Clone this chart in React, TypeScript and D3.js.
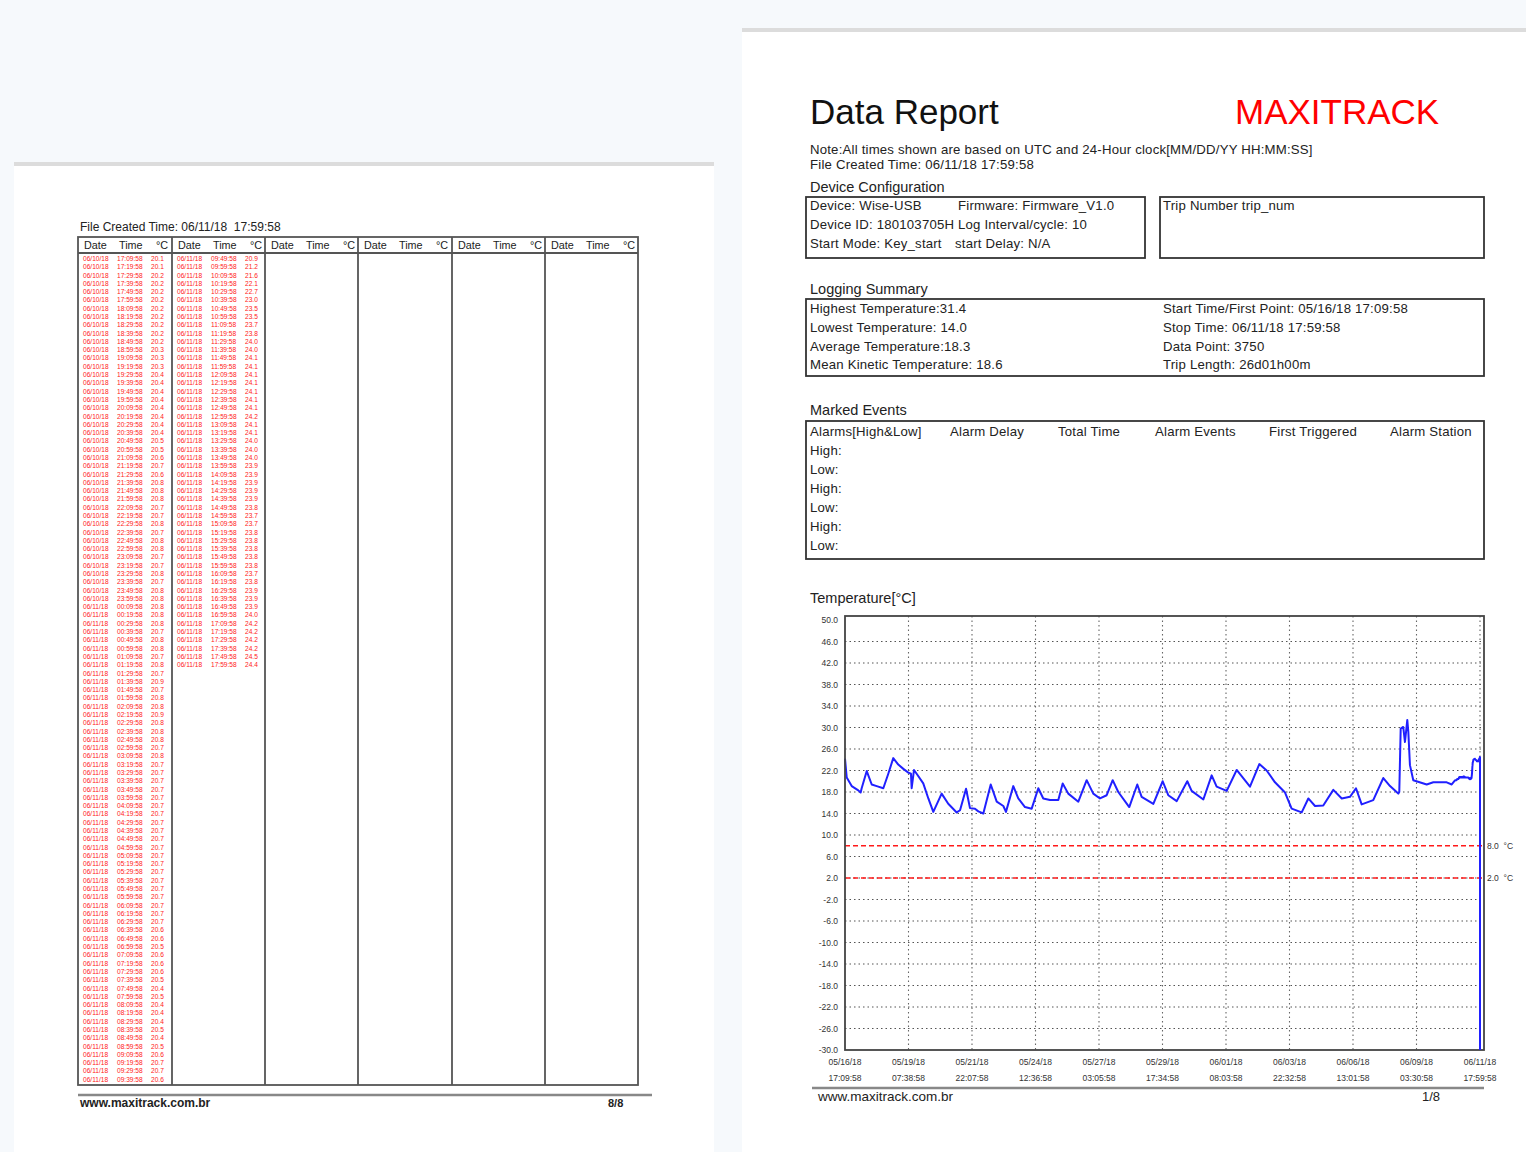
import React from 'react'
import * as d3 from 'd3'

const FONT = '"Liberation Sans", Arial, sans-serif'

// trend: hours after the first point, °C
const trendHours = [
  0, 1.7, 6.6, 13.1, 15.4, 16.4, 21.4, 26.3, 31.2, 37.7, 42.6, 47.5, 52.4, 57.4, 62.3, 64.9, 65.6, 67.9, 70.5,
  77.0, 82.0, 86.9, 95.1, 101.6, 109.9, 113.2, 119.1, 123.0, 127.9, 131.2, 136.1, 143.4, 149.3, 155.8, 158.4,
  165.6, 170.5, 177.1, 183.7, 190.2, 195.1, 201.7, 209.9, 214.2, 219.7, 229.6, 237.8, 244.3, 250.9, 257.5,
  263.4, 268.9, 279.7, 287.6, 291.9, 303.4, 312.6, 318.1, 326.4, 336.8, 341.1, 352.6, 360.8, 365.7, 375.6,
  385.4, 398.5, 407.7, 414.9, 423.1, 433.0, 439.5, 449.4, 455.9, 462.5, 470.6, 480.5, 488.8, 496.9, 502.8,
  508.4, 519.8, 529.7, 536.3, 544.4, 545.4, 546.8, 549.3, 551.0, 553.3, 554.3, 555.9, 559.2, 572.4, 578.9,
  592.1, 597.0,
]
const trendTemps = [
  24.2, 20.7, 19.1, 18.3, 17.9, 18.7, 21.9, 19.4, 19.1, 18.7, 21.4, 24.3, 23.1, 22.3, 21.6, 21.4, 18.7, 22.1, 21.4,
  19.6, 16.8, 14.3, 17.7, 15.8, 14.2, 14.6, 18.6, 15.0, 14.9, 14.4, 14.0, 19.4, 16.2, 15.4, 14.3,
  19.1, 16.8, 15.2, 14.9, 18.7, 16.8, 16.5, 16.5, 19.6, 17.7, 16.2, 20.2, 17.7, 16.8, 17.4,
  20.2, 18.0, 15.2, 19.4, 17.1, 15.8, 20.0, 17.4, 16.3, 20.0, 18.2, 16.6, 21.1, 19.0, 18.2,
  22.1, 19.0, 23.2, 22.0, 19.8, 17.9, 14.9, 14.2, 16.8, 15.4, 15.5, 18.4, 16.8, 17.1, 18.7,
  15.7, 16.5, 20.6, 19.1, 17.7, 18.0, 29.8, 30.1, 27.3, 31.4, 29.2, 23.0, 20.2, 19.4, 19.8,
  19.8, 19.4,
]

// page 8/8 records, every 10 minutes from 06/10/18 17:09:58
const pageTemps = [
  20.1, 20.1, 20.2, 20.2, 20.2, 20.2, 20.2, 20.2, 20.2, 20.2,
  20.2, 20.3, 20.3, 20.3, 20.4, 20.4, 20.4, 20.4, 20.4, 20.4,
  20.4, 20.4, 20.5, 20.5, 20.6, 20.7, 20.6, 20.8, 20.8, 20.8,
  20.7, 20.7, 20.8, 20.7, 20.8, 20.8, 20.7, 20.7, 20.8, 20.7,
  20.8, 20.8, 20.8, 20.8, 20.8, 20.7, 20.8, 20.8, 20.7, 20.8,
  20.7, 20.9, 20.7, 20.8, 20.8, 20.9, 20.8, 20.8, 20.8, 20.7,
  20.8, 20.7, 20.7, 20.7, 20.7, 20.7, 20.7, 20.7, 20.7, 20.7,
  20.7, 20.7, 20.7, 20.7, 20.7, 20.7, 20.7, 20.7, 20.7, 20.7,
  20.7, 20.6, 20.6, 20.5, 20.6, 20.6, 20.6, 20.5, 20.4, 20.5,
  20.4, 20.4, 20.4, 20.5, 20.4, 20.5, 20.6, 20.7, 20.7, 20.6,
  20.9, 21.2, 21.6, 22.1, 22.7, 23.0, 23.5, 23.5, 23.7, 23.8,
  24.0, 24.0, 24.1, 24.1, 24.1, 24.1, 24.1, 24.1, 24.1, 24.2,
  24.1, 24.1, 24.0, 24.0, 24.0, 23.9, 23.9, 23.9, 23.9, 23.9,
  23.8, 23.7, 23.7, 23.8, 23.8, 23.8, 23.8, 23.8, 23.7, 23.8,
  23.9, 23.9, 23.9, 24.0, 24.2, 24.2, 24.2, 24.2, 24.5, 24.4,
]

const yTicks = [50, 46, 42, 38, 34, 30, 26, 22, 18, 14, 10, 6, 2, -2, -6, -10, -14, -18, -22, -26, -30]
const xTickLabels = [
  '05/16/18 17:09:58', '05/19/18 07:38:58', '05/21/18 22:07:58', '05/24/18 12:36:58', '05/27/18 03:05:58',
  '05/29/18 17:34:58', '06/01/18 08:03:58', '06/03/18 22:32:58', '06/06/18 13:01:58', '06/09/18 03:30:58',
  '06/11/18 17:59:58',
]
const limits = [8.0, 2.0]

const configLeft = ['Device: Wise-USB', 'Device ID:  180103705H', 'Start Mode: Key_start']
const configRight = ['Firmware: Firmware_V1.0', 'Log Interval/cycle: 10', 'start Delay:  N/A']
const summaryLeft = ['Highest Temperature:31.4', 'Lowest Temperature: 14.0', 'Average Temperature:18.3', 'Mean Kinetic Temperature: 18.6']
const summaryRight = ['Start Time/First Point: 05/16/18  17:09:58', 'Stop Time: 06/11/18  17:59:58', 'Data Point: 3750', 'Trip Length:  26d01h00m']
const alarmHeaders = ['Alarms[High&Low]', 'Alarm Delay', 'Total Time', 'Alarm Events', 'First Triggered', 'Alarm Station']
const alarmHeaderX = [810, 950, 1058, 1155, 1269, 1390]
const alarmRows = ['High:', 'Low:', 'High:', 'Low:', 'High:', 'Low:']

const App = () => {
  const parse = d3.utcParse('%m/%d/%y %H:%M:%S')
  const start = parse('05/16/18 17:09:58') as Date
  const stop = parse('06/11/18 17:59:58') as Date
  const pageStart = parse('06/10/18 17:09:58') as Date

  const left = 845, right = 1484, top = 616, bottom = 1050
  const x = d3.scaleUtc().domain([start, stop]).range([left, 1480])
  const y = d3.scaleLinear().domain([-30, 50]).range([bottom, 620])

  const series = [
    ...trendHours.map((h, i) => ({ t: d3.utcMinute.offset(start, Math.round(h * 60)), v: trendTemps[i] })),
    ...pageTemps.map((v, i) => ({ t: d3.utcMinute.offset(pageStart, i * 10), v })),
    { t: stop, v: -30 },
  ]
  const line = d3.line<{ t: Date, v: number }>().x(d => x(d.t)).y(d => y(d.v))
  const xTicks = xTickLabels.map(s => parse(s) as Date)

  const fmtDate = d3.utcFormat('%m/%d/%y')
  const fmtTime = d3.utcFormat('%H:%M:%S')

  // left page table
  const colX = [78, 172, 265, 358, 452, 545, 638]
  const rowY0 = 261, rowH = 8.29
  const rows = pageTemps.map((v, i) => {
    const t = d3.utcMinute.offset(pageStart, i * 10)
    return { col: Math.floor(i / 100), row: i % 100, date: fmtDate(t), time: fmtTime(t), v }
  })

  const body = { fontSize: 13.2, letterSpacing: 0.2, fill: '#222', style: { whiteSpace: 'pre' as const } }

  return (
    <>
      <style>{'body{margin:0}'}</style>
      <svg width={1526} height={1152} style={{ display: 'block', fontFamily: FONT }}>
        <rect width={1526} height={1152} fill="#f6f9fc" />

        {/* page 8/8 */}
        <rect x={14} y={163} width={700} height={1000} fill="#fff" />
        <rect x={14} y={162} width={700} height={4} fill="#dcdcdc" />
        <text x={80} y={231} fontSize={12} fill="#222" style={{ whiteSpace: 'pre' }}>File Created Time: 06/11/18  17:59:58</text>
        <rect x={colX[0]} y={237} width={colX[6] - colX[0]} height={848} fill="none" stroke="#555" strokeWidth={1.8} />
        <line x1={colX[0]} x2={colX[6]} y1={253} y2={253} stroke="#555" strokeWidth={1.8} />
        {colX.slice(1, 6).map(cx => (
          <line key={cx} x1={cx} x2={cx} y1={237} y2={1085} stroke="#555" strokeWidth={1.8} />
        ))}
        {colX.slice(0, 6).map(cx => (
          <g key={'h' + cx} fontSize={10.8} fill="#222">
            <text x={cx + 6} y={249}>Date</text>
            <text x={cx + 41} y={249}>Time</text>
            <text x={cx + 78} y={249}>°C</text>
          </g>
        ))}
        <g fontSize={6.6} fill="#ff2020">
          {rows.map((r, i) => (
            <g key={i} transform={`translate(${colX[r.col]},${rowY0 + r.row * rowH})`}>
              <text x={5}>{r.date}</text>
              <text x={39}>{r.time}</text>
              <text x={73}>{r.v.toFixed(1)}</text>
            </g>
          ))}
        </g>
        <line x1={78} x2={652} y1={1095} y2={1095} stroke="#888" strokeWidth={2.5} />
        <text x={80} y={1107} fontSize={12} fontWeight="bold" fill="#222">www.maxitrack.com.br</text>
        <text x={608} y={1107} fontSize={11} fontWeight="bold" fill="#222">8/8</text>

        {/* page 1/8 */}
        <rect x={742} y={29} width={784} height={1130} fill="#fff" />
        <rect x={742} y={28} width={784} height={4} fill="#dcdcdc" />
        <text x={810} y={124} fontSize={35} fill="#111">Data Report</text>
        <text x={1235} y={124} fontSize={35} fill="#ff0000">MAXITRACK</text>
        <g {...body}>
          <text x={810} y={154}>Note:All times shown are based on UTC and 24-Hour clock[MM/DD/YY HH:MM:SS]</text>
          <text x={810} y={169}>File Created Time: 06/11/18  17:59:58</text>
        </g>

        <text x={810} y={192} fontSize={14.5} fill="#222">Device Configuration</text>
        <rect x={806} y={197} width={339} height={61} fill="none" stroke="#333" strokeWidth={1.8} />
        <rect x={1160} y={197} width={324} height={61} fill="none" stroke="#333" strokeWidth={1.8} />
        <g {...body}>
          {configLeft.map((s, i) => <text key={s} x={810} y={210 + i * 19}>{s}</text>)}
          {configRight.map((s, i) => <text key={s} x={i === 2 ? 955 : 958} y={210 + i * 19}>{s}</text>)}
          <text x={1163} y={210}>Trip Number trip_num</text>
        </g>

        <text x={810} y={294} fontSize={14.5} fill="#222">Logging Summary</text>
        <rect x={806} y={299} width={678} height={77} fill="none" stroke="#333" strokeWidth={1.8} />
        <g {...body}>
          {summaryLeft.map((s, i) => <text key={s} x={810} y={313 + i * 18.8}>{s}</text>)}
          {summaryRight.map((s, i) => <text key={s} x={1163} y={313 + i * 18.8}>{s}</text>)}
        </g>

        <text x={810} y={415} fontSize={14.5} fill="#222">Marked Events</text>
        <rect x={806} y={421} width={678} height={138} fill="none" stroke="#333" strokeWidth={1.8} />
        <g {...body}>
          {alarmHeaders.map((s, i) => <text key={s} x={alarmHeaderX[i]} y={436}>{s}</text>)}
          {alarmRows.map((s, i) => <text key={i} x={810} y={455 + i * 18.9}>{s}</text>)}
        </g>

        <text x={810} y={603} fontSize={14.5} fill="#222">Temperature[°C]</text>

        {/* grid */}
        {yTicks.filter(v => v !== 50 && v !== -30).map(v => (
          <line key={v} x1={left} x2={right} y1={y(v)} y2={y(v)} stroke="#555" strokeWidth={1.1}
            strokeDasharray="1.5,3" />
        ))}
        {xTicks.slice(1).map((t, i) => (
          <line key={i} x1={x(t)} x2={x(t)} y1={top} y2={bottom} stroke="#666" strokeWidth={1.1}
            strokeDasharray="1.5,3" />
        ))}
        {limits.map(v => (
          <g key={v}>
            <line x1={left} x2={right} y1={y(v)} y2={y(v)} stroke="#ff1a1a" strokeWidth={1.3} strokeDasharray="5,3" />
            <text x={1487} y={y(v) + 3} fontSize={8.5} fill="#333" style={{ whiteSpace: 'pre' }}>{v.toFixed(1) + '  °C'}</text>
          </g>
        ))}

        <path d={line(series) || ''} fill="none" stroke="#2020ff" strokeWidth={2} strokeLinejoin="round" />
        <rect x={left} y={top} width={right - left} height={bottom - top} fill="none" stroke="#444" strokeWidth={1.8} />
        <line x1={x(stop)} x2={x(stop)} y1={y(series[series.length - 2].v)} y2={bottom} stroke="#2020ff" strokeWidth={2} />

        <g fontSize={8.5} fill="#333" textAnchor="end">
          {yTicks.map(v => <text key={v} x={838} y={y(v) + 3}>{v.toFixed(1)}</text>)}
        </g>
        <g fontSize={8.5} fill="#333" textAnchor="middle">
          {xTicks.map((t, i) => (
            <g key={i}>
              <text x={x(t)} y={1065}>{fmtDate(t)}</text>
              <text x={x(t)} y={1081}>{fmtTime(t)}</text>
            </g>
          ))}
        </g>

        <line x1={812} x2={1484} y1={1088} y2={1088} stroke="#888" strokeWidth={2.5} />
        <text x={818} y={1101} fontSize={13.5} fill="#222">www.maxitrack.com.br</text>
        <text x={1422} y={1101} fontSize={13} fill="#222">1/8</text>
      </svg>
    </>
  )
}

export default App
